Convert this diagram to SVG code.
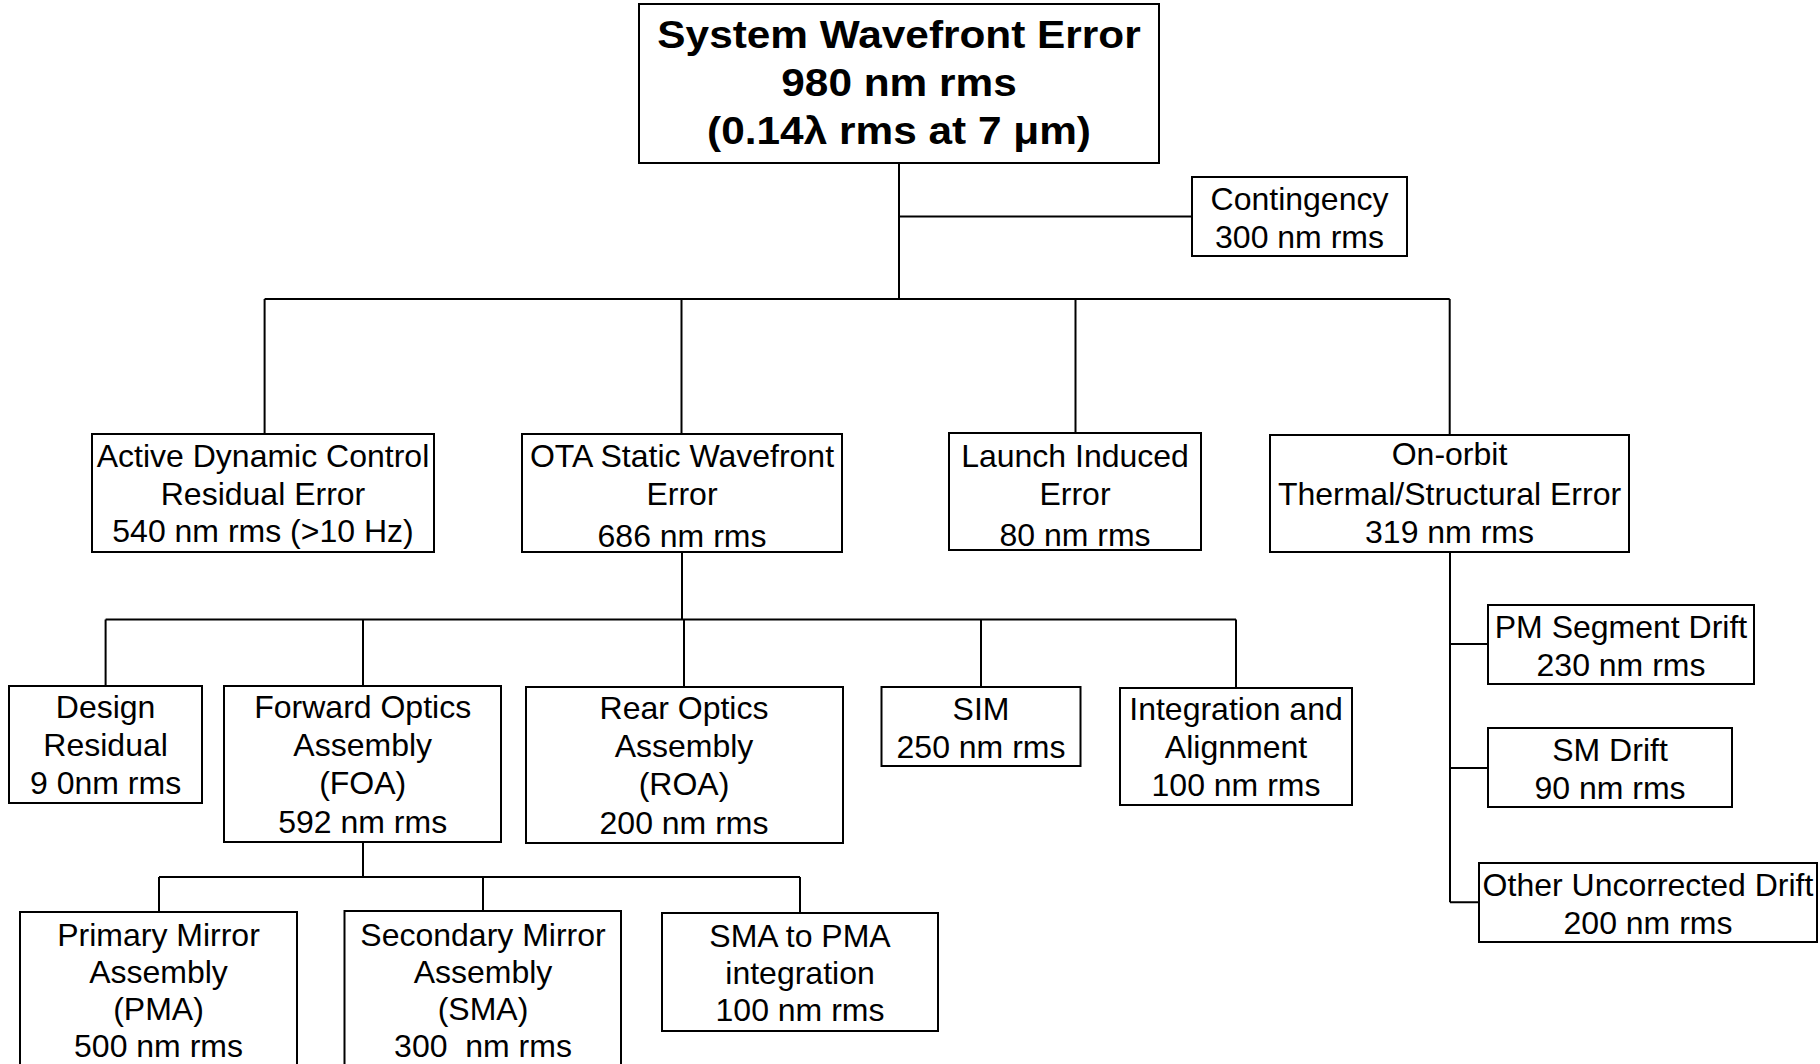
<svg xmlns="http://www.w3.org/2000/svg" width="1820" height="1064" viewBox="0 0 1820 1064">
<style>
.box{fill:#fff;stroke:#000;stroke-width:2}
.t{font-family:"Liberation Sans",Arial,sans-serif;font-size:32px;text-anchor:middle;fill:#000}
.b{font-family:"Liberation Sans",Arial,sans-serif;font-size:38px;font-weight:bold;text-anchor:middle;fill:#000}
.c{fill:none;stroke:#000;stroke-width:2}
</style>
<rect width="1820" height="1064" fill="#fff"/>
<g id="connectors">
<path class="c" d="M899 163V299M899 216.5H1192"/>
<path class="c" d="M264.6 299H1449.7M264.6 299V434M681.5 299V434M1075.5 299V433M1449.7 299V435"/>
<path class="c" d="M682 552V619.5M105.6 619.5H1236M105.6 619.5V686M363 619.5V686M684 619.5V687M981 619.5V687M1236 619.5V688"/>
<path class="c" d="M1450 552V902.3M1450 644H1488M1450 768H1488M1450 902.3H1479"/>
<path class="c" d="M363 842V877M159 877H800M159 877V912M483 877V911M800 877V913"/>
</g>
<g id="system">
<rect class="box" x="639" y="4" width="520" height="159"/>
<g transform="translate(899,0) scale(1.115,1)">
<text class="b" x="0" y="48">System Wavefront Error</text>
<text class="b" x="0" y="96">980 nm rms</text>
<text class="b" x="0" y="144">(0.14λ rms at 7 μm)</text>
</g>
</g>
<g id="contingency">
<rect class="box" x="1192" y="177" width="215" height="79"/>
<text class="t" x="1299.5" y="210">Contingency</text>
<text class="t" x="1299.5" y="248">300 nm rms</text>
</g>
<g id="active">
<rect class="box" x="92" y="434" width="342" height="118"/>
<text class="t" x="263" y="467">Active Dynamic Control</text>
<text class="t" x="263" y="505">Residual Error</text>
<text class="t" x="263" y="542">540 nm rms (&gt;10 Hz)</text>
</g>
<g id="ota">
<rect class="box" x="522" y="434" width="320" height="118"/>
<text class="t" x="682" y="467">OTA Static Wavefront</text>
<text class="t" x="682" y="505">Error</text>
<text class="t" x="682" y="547">686 nm rms</text>
</g>
<g id="launch">
<rect class="box" x="949" y="433" width="252" height="117"/>
<text class="t" x="1075" y="467">Launch Induced</text>
<text class="t" x="1075" y="505">Error</text>
<text class="t" x="1075" y="546">80 nm rms</text>
</g>
<g id="onorbit">
<rect class="box" x="1270" y="435" width="359" height="117"/>
<text class="t" x="1449.5" y="465">On-orbit</text>
<text class="t" x="1449.5" y="505">Thermal/Structural Error</text>
<text class="t" x="1449.5" y="543">319 nm rms</text>
</g>
<g id="design">
<rect class="box" x="9" y="686" width="193" height="117"/>
<text class="t" x="105.6" y="718">Design</text>
<text class="t" x="105.6" y="756">Residual</text>
<text class="t" x="105.6" y="794">9 0nm rms</text>
</g>
<g id="foa">
<rect class="box" x="224" y="686" width="277" height="156"/>
<text class="t" x="362.7" y="718">Forward Optics</text>
<text class="t" x="362.7" y="756">Assembly</text>
<text class="t" x="362.7" y="794">(FOA)</text>
<text class="t" x="362.7" y="833">592 nm rms</text>
</g>
<g id="roa">
<rect class="box" x="526" y="687" width="317" height="156"/>
<text class="t" x="684" y="719">Rear Optics</text>
<text class="t" x="684" y="757">Assembly</text>
<text class="t" x="684" y="795">(ROA)</text>
<text class="t" x="684" y="834">200 nm rms</text>
</g>
<g id="sim">
<rect class="box" x="881.5" y="687" width="199" height="79"/>
<text class="t" x="981" y="720">SIM</text>
<text class="t" x="981" y="758">250 nm rms</text>
</g>
<g id="integration">
<rect class="box" x="1120" y="688" width="232" height="117"/>
<text class="t" x="1236" y="720">Integration and</text>
<text class="t" x="1236" y="758">Alignment</text>
<text class="t" x="1236" y="796">100 nm rms</text>
</g>
<g id="pmdrift">
<rect class="box" x="1488" y="605" width="266" height="79"/>
<text class="t" x="1621" y="638">PM Segment Drift</text>
<text class="t" x="1621" y="676">230 nm rms</text>
</g>
<g id="smdrift">
<rect class="box" x="1488" y="728" width="244" height="79"/>
<text class="t" x="1610" y="761">SM Drift</text>
<text class="t" x="1610" y="799">90 nm rms</text>
</g>
<g id="otherdrift">
<rect class="box" x="1479" y="863" width="338" height="79"/>
<text class="t" x="1648" y="896">Other Uncorrected Drift</text>
<text class="t" x="1648" y="934">200 nm rms</text>
</g>
<g id="pma">
<rect class="box" x="20" y="912" width="277" height="170"/>
<text class="t" x="158.5" y="946">Primary Mirror</text>
<text class="t" x="158.5" y="983">Assembly</text>
<text class="t" x="158.5" y="1020">(PMA)</text>
<text class="t" x="158.5" y="1057">500 nm rms</text>
</g>
<g id="sma">
<rect class="box" x="344.5" y="911" width="276.5" height="170"/>
<text class="t" x="483" y="946">Secondary Mirror</text>
<text class="t" x="483" y="983">Assembly</text>
<text class="t" x="483" y="1020">(SMA)</text>
<text class="t" x="483" y="1057" xml:space="preserve">300  nm rms</text>
</g>
<g id="smatopma">
<rect class="box" x="662" y="913" width="276" height="118"/>
<text class="t" x="800" y="947">SMA to PMA</text>
<text class="t" x="800" y="984">integration</text>
<text class="t" x="800" y="1021">100 nm rms</text>
</g>
</svg>
